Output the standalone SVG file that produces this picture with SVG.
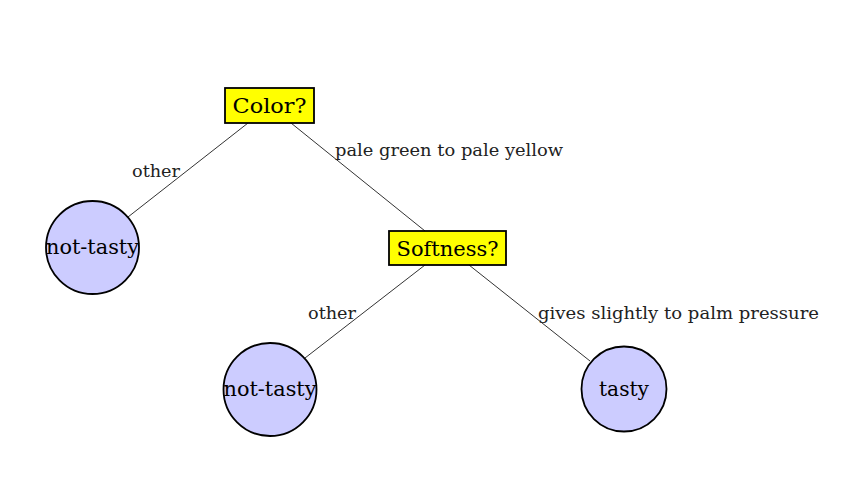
<svg xmlns="http://www.w3.org/2000/svg" width="863" height="483" viewBox="0 0 863 483">
<style>
.box{fill:#ffff00;stroke:#000;stroke-width:1.8}
.leaf{fill:#ccccff;stroke:#000;stroke-width:1.8}
.edge{stroke:#333;stroke-width:1;fill:none}
.nt{font-family:"DejaVu Serif","Liberation Serif",serif;font-size:20.5px;fill:#000;text-anchor:middle}
.lt{font-family:"DejaVu Serif","Liberation Serif",serif;font-size:16.5px;fill:#222}
</style>
<rect width="863" height="483" fill="#fff"/>
<g id="edges">
<line class="edge" x1="248" y1="123" x2="128" y2="217"/>
<line class="edge" x1="291" y1="123" x2="425" y2="231"/>
<line class="edge" x1="425" y1="265" x2="305" y2="358"/>
<line class="edge" x1="469" y1="265" x2="590" y2="361"/>
<text class="lt" x="132" y="177" textLength="48" lengthAdjust="spacingAndGlyphs">other</text>
<text class="lt" x="335" y="156" textLength="228" lengthAdjust="spacingAndGlyphs">pale green to pale yellow</text>
<text class="lt" x="308" y="319" textLength="48" lengthAdjust="spacingAndGlyphs">other</text>
<text class="lt" x="538" y="319" textLength="281" lengthAdjust="spacingAndGlyphs">gives slightly to palm pressure</text>
</g>
<g id="color">
<rect class="box" x="225" y="88" width="89" height="35"/>
<text class="nt" x="269.5" y="112.5" textLength="74" lengthAdjust="spacingAndGlyphs">Color?</text>
</g>
<g id="softness">
<rect class="box" x="389" y="231" width="117" height="34"/>
<text class="nt" x="447.5" y="255.5" textLength="102" lengthAdjust="spacingAndGlyphs">Softness?</text>
</g>
<g id="leaf1">
<circle class="leaf" cx="92.5" cy="247.5" r="46.5"/>
<text class="nt" x="92.5" y="254" textLength="93" lengthAdjust="spacingAndGlyphs">not-tasty</text>
</g>
<g id="leaf2">
<circle class="leaf" cx="270" cy="389.5" r="46.5"/>
<text class="nt" x="270" y="396" textLength="93" lengthAdjust="spacingAndGlyphs">not-tasty</text>
</g>
<g id="leaf3">
<circle class="leaf" cx="624" cy="389" r="42.5"/>
<text class="nt" x="624" y="395.5" textLength="50" lengthAdjust="spacingAndGlyphs">tasty</text>
</g>
</svg>
